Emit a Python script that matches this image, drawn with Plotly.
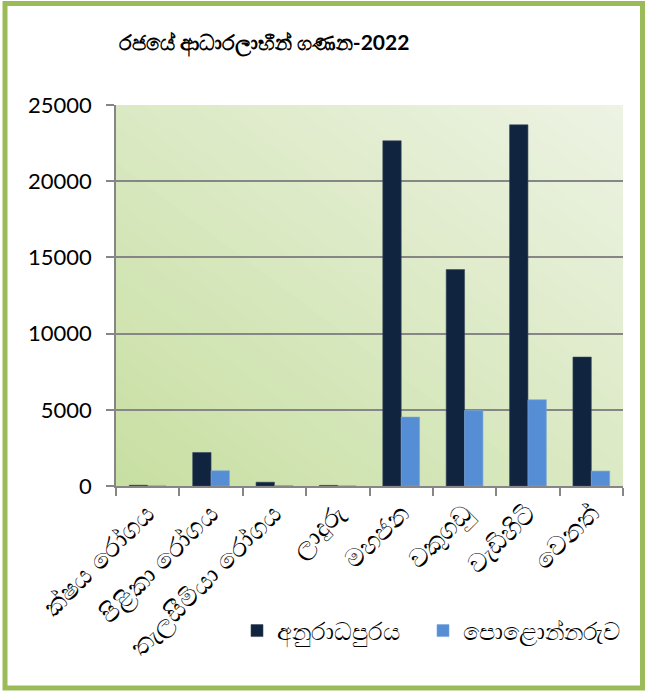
import plotly.graph_objects as go

# Data
categories = ["ක්ෂය රෝගය", "පිළිකා රෝගය", "තැලසීමියා රෝගය", "ලාදුරු",
              "මහජන", "වකුගඩු", "වැඩිහිටි", "වෙනත්"]
anuradhapura = [50, 2200, 250, 40, 22650, 14200, 23700, 8460]
polonnaruwa = [10, 1000, 30, 10, 4520, 4950, 5660, 980]
y_ticks = [0, 5000, 10000, 15000, 20000, 25000]
y_tick_text = ["0", "5000", "10000", "15000", "20000", "25000"]

W, H = 646, 691
L, R, T, B = 116, 23, 105, 205
PW, PH = W - L - R, H - T - B


def px_x(px):
    return (px - L) / PW


def px_y(py):
    return (H - B - py) / PH


FONT = "Lato, 'Noto Sans', sans-serif"

fig = go.Figure()
fig.add_trace(go.Bar(
    x=categories, y=anuradhapura, name="අනුරාධපුරය", legend="legend",
    marker=dict(color="#10243F", line=dict(color="#3a4a60", width=0.6)),
))
fig.add_trace(go.Bar(
    x=categories, y=polonnaruwa, name="පොළොන්නරුව", legend="legend2",
    marker=dict(color="#558ED5", line=dict(color="#7aa6de", width=0.6)),
))

# diagonal gradient background of the plot area (bottom-left -> top-right)
c0 = (200, 223, 163)
c1 = (237, 243, 227)
n = 40
shapes = []
for i in range(n):
    s = 2 * i / n
    t = i / (n - 1)
    col = "rgb(%d,%d,%d)" % tuple(round(a + (b - a) * t) for a, b in zip(c0, c1))
    if s <= 1:
        path = f"M {s},0 L 1,0 L 1,1 L 0,1 L 0,{s} Z"
    else:
        path = f"M 1,{s-1} L 1,1 L {s-1},1 Z"
    shapes.append(dict(type="path", path=path, xref="x domain", yref="y domain",
                       fillcolor=col, line=dict(width=0), layer="below"))

# outer green frame
shapes.append(dict(type="rect", xref="paper", yref="paper",
                   x0=px_x(5), x1=px_x(642.5), y0=px_y(688), y1=px_y(3.5),
                   line=dict(color="#9BBB59", width=5), layer="above"))

legend_style = dict(orientation="h", y=px_y(631), xanchor="left", yanchor="middle",
                    font=dict(size=24, family=FONT), bgcolor="rgba(0,0,0,0)")

fig.update_layout(
    width=W, height=H,
    margin=dict(l=L, r=R, t=T, b=B, autoexpand=False),
    paper_bgcolor="white",
    plot_bgcolor="rgba(0,0,0,0)",
    barmode="group",
    bargap=0.42,
    bargroupgap=0,
    shapes=shapes,
    showlegend=True,
    font=dict(family=FONT, color="black"),
    title=dict(text="<b>රජයේ ආධාරලාභීන් ගණන-2022</b>", x=264 / W, xref="container",
               xanchor="center", y=1 - 43 / H, yref="container", yanchor="middle",
               font=dict(size=21, family=FONT, color="black")),
    legend=dict(x=px_x(237), **legend_style),
    legend2=dict(x=px_x(423), **legend_style),
)

fig.update_xaxes(
    tickangle=-45, tickson="boundaries", ticks="outside", ticklen=8, tickwidth=1.5,
    tickcolor="#868686", showline=True, linecolor="#868686", linewidth=1.5,
    showgrid=False, tickfont=dict(size=26, family=FONT),
)
fig.update_yaxes(
    range=[0, 25000], tickvals=y_ticks, ticktext=y_tick_text, ticks="outside",
    ticklen=8, tickwidth=1.5, ticklabelstandoff=10,
    tickcolor="#868686", showline=True, linecolor="#868686", linewidth=1.5,
    showgrid=True, gridcolor="#868686", gridwidth=1.5, zeroline=False,
    tickfont=dict(size=22, family=FONT),
)

fig.write_html("out.html", config={"displayModeBar": False},
               post_script="document.body.style.margin='0';document.body.style.overflow='hidden';")
